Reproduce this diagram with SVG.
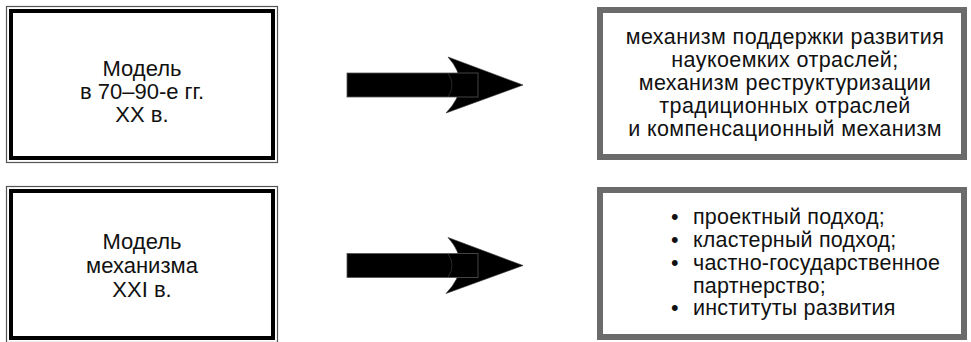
<svg xmlns="http://www.w3.org/2000/svg" width="971" height="342" viewBox="0 0 971 342">
<style>
.outer{fill:none;stroke:#555;stroke-width:1.2}
.inner{fill:none;stroke:#000;stroke-width:4}
.gbox{fill:#fff;stroke:#6b6b6b;stroke-width:6}
text{font-family:"Liberation Sans",Arial,sans-serif;font-size:22px;fill:#111}
.c{text-anchor:middle}
.t{font-size:21.5px;letter-spacing:0.4px}
.b{font-size:21.5px;letter-spacing:0.2px}
.shaft{fill:#000;stroke:#555;stroke-width:0.8}
.head{fill:#000;stroke:#333;stroke-width:0.6}
</style>
<rect width="971" height="342" fill="#fff"/>
<g id="node-model-70-90">
<rect class="outer" x="6.5" y="6.5" width="271" height="156"/>
<rect class="inner" x="11" y="11" width="262" height="147"/>
<text class="c" x="142" y="76">Модель</text>
<text class="c" x="142" y="99">в 70–90-е гг.</text>
<text class="c" x="142" y="122">XX в.</text>
</g>
<g id="node-model-xxi">
<rect class="outer" x="6.5" y="186.5" width="271" height="156"/>
<rect class="inner" x="11" y="191" width="262" height="147"/>
<text class="c" x="142" y="249">Модель</text>
<text class="c" x="142" y="273">механизма</text>
<text class="c" x="142" y="297">XXI в.</text>
</g>
<g id="node-mechanisms">
<rect class="gbox" x="600" y="10" width="364" height="147"/>
<text class="c t" x="785" y="44">механизм поддержки развития</text>
<text class="c t" x="785" y="67">наукоемких отраслей;</text>
<text class="c t" x="785" y="90">механизм реструктуризации</text>
<text class="c t" x="785" y="113">традиционных отраслей</text>
<text class="c t" x="785" y="136">и компенсационный механизм</text>
</g>
<g id="node-approaches">
<rect class="gbox" x="600" y="190" width="364" height="147"/>
<text class="b" x="671" y="224">•</text><text class="b" x="693" y="224">проектный подход;</text>
<text class="b" x="671" y="247">•</text><text class="b" x="693" y="247">кластерный подход;</text>
<text class="b" x="671" y="270">•</text><text class="b" x="693" y="270">частно-государственное</text>
<text class="b" x="693" y="292.5">партнерство;</text>
<text class="b" x="671" y="315">•</text><text class="b" x="693" y="315">институты развития</text>
</g>
<g id="connectors">
<g id="arrow-top">
<path class="head" d="M448,57 L523,85 L446,113 Q473,85 448,57 Z"/>
<rect class="shaft" x="347" y="73" width="131" height="24"/>
<path d="M448,73 Q456,85 448,97" fill="none" stroke="#444" stroke-width="0.6"/>
</g>
<g id="arrow-bottom">
<path class="head" d="M448,237.5 L523,265.5 L446,293.5 Q473,265.5 448,237.5 Z"/>
<rect class="shaft" x="347" y="253.5" width="131" height="24"/>
<path d="M448,253.5 Q456,265.5 448,277.5" fill="none" stroke="#444" stroke-width="0.6"/>
</g>
</g>
</svg>
